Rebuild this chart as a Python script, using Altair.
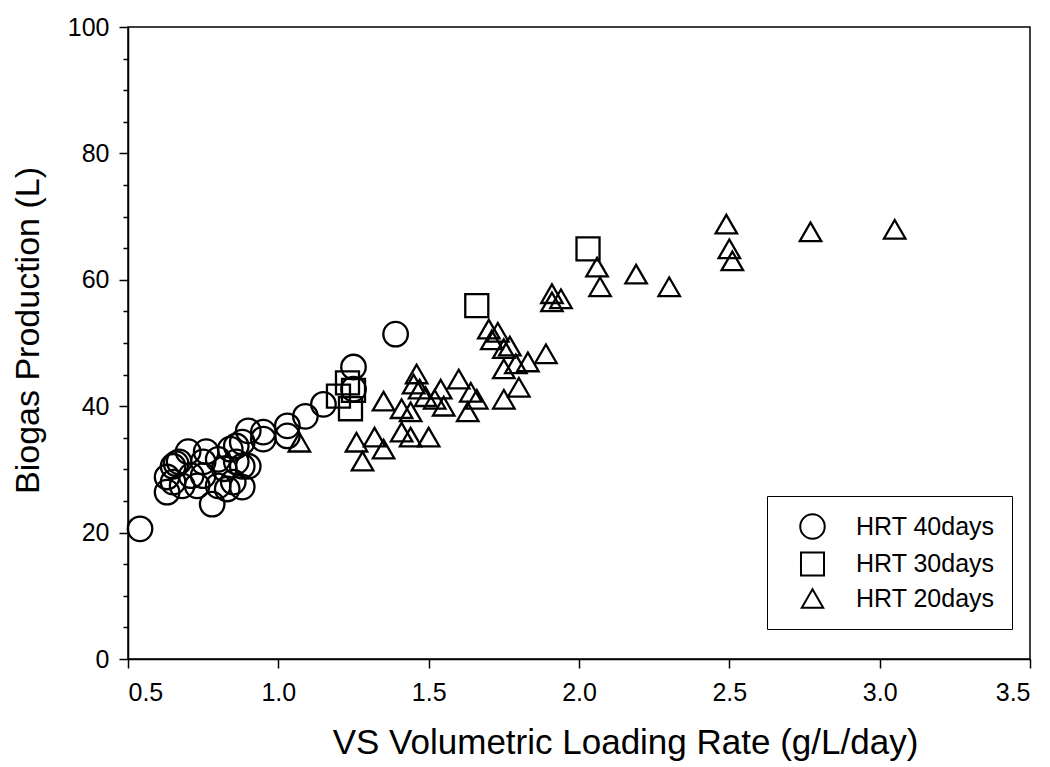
import altair as alt
import pandas as pd

groups = ["HRT 40days", "HRT 30days", "HRT 20days"]

circle_x = [0.54, 0.63, 0.78, 0.88, 0.63, 0.66, 0.70, 0.76, 0.90, 0.86, 0.90, 0.95, 0.95,
            1.03, 1.03, 1.09, 1.15, 1.25, 1.25, 1.39,
            0.65, 0.65, 0.84, 0.88, 0.88, 0.82, 0.75, 0.71, 0.68, 0.73, 0.80, 0.85,
            0.80, 0.75, 0.86, 0.83, 0.67]
circle_y = [20.6, 26.4, 24.5, 27.2, 28.8, 30.9, 32.8, 32.8, 30.5, 33.7, 36.1, 35.9, 34.8,
            36.9, 35.3, 38.4, 40.3, 46.2, 42.7, 51.4,
            28.0, 30.5, 33.2, 34.3, 30.5, 30.1, 29.0, 29.0, 27.4, 27.4, 27.4, 28.0,
            31.6, 31.2, 31.2, 26.9, 31.2]

square_x = [1.20, 1.23, 1.24, 1.25, 1.66, 2.03]
square_y = [41.6, 43.7, 39.6, 42.5, 55.9, 64.9]

triangle_x = [1.07, 1.26, 1.32, 1.35, 1.28, 1.35, 1.41, 1.41, 1.44, 1.44, 1.46, 1.47,
              1.50, 1.54, 1.55, 1.60, 1.64, 1.63, 1.66, 1.75, 1.75, 1.80, 1.70, 1.73,
              1.75, 1.77, 1.79, 1.83, 1.89, 1.91, 1.94, 1.91, 2.06, 2.07, 2.19, 2.30,
              2.49, 2.50, 2.51, 2.77, 3.05, 1.49, 1.52, 1.71, 1.45]
triangle_y = [34.3, 34.3, 35.1, 33.2, 31.3, 40.8, 39.6, 35.9, 35.1, 39.1, 45.1, 42.7,
              35.1, 42.7, 40.0, 44.3, 42.2, 39.1, 41.1, 45.9, 41.1, 43.0, 52.2, 51.7,
              49.1, 49.5, 46.7, 47.0, 48.3, 57.8, 57.0, 56.5, 62.0, 58.9, 60.9, 58.9,
              68.8, 64.9, 63.0, 67.6, 68.0, 41.5, 41.1, 50.5, 43.5]

x_ticks = [0.5, 1.0, 1.5, 2.0, 2.5, 3.0, 3.5]
y_ticks = list(range(0, 101, 5))

df = pd.DataFrame({
    "x": circle_x + square_x + triangle_x,
    "y": circle_y + square_y + triangle_y,
    "g": [groups[0]] * len(circle_x) + [groups[1]] * len(square_x) + [groups[2]] * len(triangle_x),
})

FONT = "Liberation Sans"

legend = alt.Legend(title=None, orient="none", legendX=639, legendY=469,
                    strokeColor="black", fillColor="white", padding=17,
                    labelFontSize=25, rowPadding=5, symbolOffset=15,
                    labelOffset=30, symbolStrokeWidth=2,
                    symbolStrokeColor="black", symbolFillColor="transparent",
                    labelColor="black", labelFont=FONT)

chart = alt.Chart(df).mark_point(
    filled=False, color="black", strokeWidth=2.3, opacity=1
).encode(
    x=alt.X("x:Q",
            scale=alt.Scale(domain=[0.5, 3.5], nice=False, zero=False),
            axis=alt.Axis(values=x_ticks, format=".1f",
                          title="VS Volumetric Loading Rate (g/L/day)",
                          tickSize=9, labelPadding=12, labelFontSize=25,
                          titleFontSize=35, titlePadding=20, titleX=497,
                          titleAlign="center", grid=False)),
    y=alt.Y("y:Q",
            scale=alt.Scale(domain=[0, 100], nice=False),
            axis=alt.Axis(values=y_ticks,
                          labelExpr="datum.value % 20 === 0 ? datum.label : ''",
                          tickSize={"condition": {"test": "datum.value % 20 === 0", "value": 9}, "value": 5},
                          title="Biogas Production (L)",
                          labelPadding=10, labelFontSize=25,
                          titleFontSize=34, titlePadding=22, titleY=303,
                          titleAlign="center", grid=False)),
    shape=alt.Shape("g:N",
                    scale=alt.Scale(domain=groups, range=["circle", "square", "triangle-up"]),
                    legend=legend),
    size=alt.Size("g:N", scale=alt.Scale(domain=groups, range=[600, 460, 660]),
                  legend=legend),
).properties(
    width=902, height=632,
    autosize="none",
    padding={"left": 120, "top": 19, "right": 12, "bottom": 108},
).configure_view(
    stroke="black", strokeWidth=1.5
).configure_axis(
    domainColor="black", domainWidth=1.5, tickColor="black", tickWidth=1.5,
    labelColor="black", titleColor="black", labelFont=FONT, titleFont=FONT,
    titleFontWeight="normal"
)

chart.save("out.html", embed_options={"renderer": "svg", "actions": False})
